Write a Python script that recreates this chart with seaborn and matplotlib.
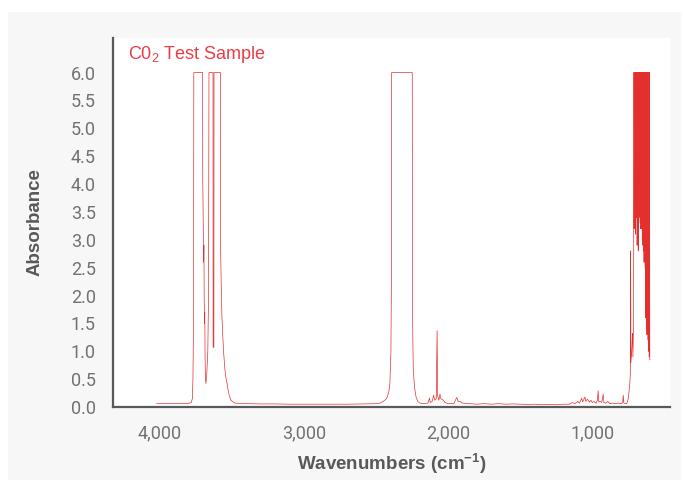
import numpy as np
import pandas as pd
import matplotlib
matplotlib.use("Agg")
import matplotlib.pyplot as plt
import seaborn as sns
from matplotlib.ticker import MultipleLocator, FuncFormatter
from matplotlib.patches import Rectangle

# spectrum, segment by segment (wavenumber, absorbance)
oh_wn = [4020, 3950, 3880, 3800, 3780, 3772, 3768, 3764, 3762, 3701, 3700, 3696,
         3694, 3692, 3690, 3688, 3686, 3684, 3681, 3678, 3672, 3665, 3660, 3657,
         3629, 3628, 3623, 3622, 3578, 3576, 3572, 3567, 3556, 3546, 3538, 3532,
         3524, 3520, 3516, 3504, 3490, 3477]
oh_abs = [0.06, 0.065, 0.06, 0.065, 0.08, 0.15, 0.5, 1.5, 6.0, 6.0, 4.1, 3.0,
          2.6, 2.9, 2.0, 1.5, 1.7, 0.9, 0.5, 0.42, 0.6, 1.0, 2.0, 6.0,
          6.0, 1.07, 1.07, 6.0, 6.0, 2.8, 2.2, 1.6, 1.0, 0.66, 0.5, 0.43,
          0.3, 0.25, 0.2, 0.12, 0.09, 0.07]

base_wn = [3400, 3300, 3200, 3100, 3000, 2900, 2800, 2700, 2600, 2520]
base_abs = [0.06, 0.055, 0.055, 0.05, 0.05, 0.05, 0.05, 0.05, 0.055, 0.06]

co2_wn = [2486, 2472, 2450, 2430, 2421, 2410, 2403, 2396, 2392, 2391, 2248, 2247,
          2244, 2241, 2232, 2222, 2210, 2195, 2170, 2140, 2128, 2124, 2110, 2100,
          2092, 2082, 2076, 2072, 2064, 2056, 2050, 2037, 2020, 2000, 1960, 1940,
          1930, 1918, 1900, 1850]
co2_abs = [0.06, 0.07, 0.1, 0.14, 0.18, 0.28, 0.43, 1.0, 2.5, 6.0, 6.0, 2.1,
           1.2, 0.66, 0.35, 0.18, 0.1, 0.07, 0.06, 0.07, 0.16, 0.08, 0.1, 0.21,
           0.12, 0.15, 1.37, 0.2, 0.12, 0.23, 0.15, 0.13, 0.08, 0.06, 0.06, 0.17,
           0.1, 0.1, 0.07, 0.06]

mid_wn = [1800, 1750, 1700, 1650, 1600, 1550, 1500, 1450, 1400, 1350, 1300, 1250,
          1200, 1160, 1140, 1120, 1100, 1090, 1080, 1074, 1068, 1060, 1051, 1045,
          1035, 1020, 1010, 1000, 990, 975, 965, 960, 955, 945, 935, 925,
          920, 905, 893, 880, 860, 840, 820, 800, 790, 786, 782, 770, 763]
mid_abs = [0.05, 0.06, 0.05, 0.06, 0.05, 0.055, 0.05, 0.045, 0.05, 0.04, 0.045, 0.04,
           0.05, 0.05, 0.08, 0.06, 0.1, 0.07, 0.12, 0.16, 0.09, 0.13, 0.18, 0.1,
           0.14, 0.09, 0.12, 0.08, 0.1, 0.07, 0.12, 0.29, 0.09, 0.1, 0.08, 0.23,
           0.08, 0.07, 0.1, 0.06, 0.07, 0.06, 0.07, 0.06, 0.08, 0.21, 0.07, 0.06, 0.06]

rise_wn = [756, 750, 745, 740, 737, 735, 733, 728, 724, 721, 719, 716, 714]
rise_abs = [0.1, 0.18, 0.3, 0.45, 0.6, 2.8, 0.8, 0.95, 1.2, 1.32, 0.9, 1.3, 2.0]

dense_wn = np.arange(712, 599, -2)
dense_abs = [6.0, 3.2, 6.0, 3.3, 6.0, 3.1, 6.0, 3.6, 6.0, 3.4, 6.0, 2.9,
             6.0, 3.0, 6.0, 2.8, 6.0, 3.3, 6.0, 3.5, 6.0, 3.4, 6.0, 3.2,
             6.0, 3.3, 6.0, 3.2, 6.0, 3.0, 6.0, 2.9, 6.0, 2.8, 6.0, 2.6,
             6.0, 2.6, 6.0, 2.5, 6.0, 1.6, 6.0, 1.4, 6.0, 1.3, 6.0, 1.3,
             6.0, 1.2, 6.0, 1.0, 6.0, 0.9, 6.0, 0.85, 0.85]

y_ticks = [0.0, 0.5, 1.0, 1.5, 2.0, 2.5, 3.0, 3.5, 4.0, 4.5, 5.0, 5.5, 6.0]

wn = np.concatenate([oh_wn, base_wn, co2_wn, mid_wn, rise_wn, dense_wn])
ab = np.concatenate([oh_abs, base_abs, co2_abs, mid_abs, rise_abs, dense_abs])
df = pd.DataFrame({"wn": wn, "abs": ab})

sns.set_style("white")
plt.rcParams["font.family"] = ["Liberation Sans", "DejaVu Sans"]

fig = plt.figure(figsize=(6.83, 4.82), dpi=100, facecolor="white")
fig.patches.append(Rectangle((8 / 683, 2 / 482), 673 / 683, 468 / 482,
                             transform=fig.transFigure, facecolor="#f7f7f7",
                             edgecolor="none", zorder=-10))
ax = fig.add_axes([113 / 683, 75 / 482, 557 / 683, 369 / 482])
ax.set_facecolor("white")

sns.lineplot(data=df, x="wn", y="abs", sort=False, estimator=None,
             color="#e3302f", lw=0.5, ax=ax)

ax.set_xlim(4322, 462)
ax.set_ylim(0, 6.62)

dark = "#58595b"
tick_c = "#707174"
for s in ["top", "right"]:
    ax.spines[s].set_visible(False)
for s in ["left", "bottom"]:
    ax.spines[s].set_color(dark)
    ax.spines[s].set_linewidth(1.6)

ax.xaxis.set_major_locator(MultipleLocator(1000))
ax.xaxis.set_minor_locator(MultipleLocator(200))
ax.set_yticks(y_ticks)
ax.xaxis.set_major_formatter(FuncFormatter(lambda v, p: f"{v:,.0f}"))
ax.yaxis.set_major_formatter(FuncFormatter(lambda v, p: f"{v:.1f}"))

ax.tick_params(axis="x", which="major", direction="out", length=6.5, width=1.6,
               color=dark, pad=6, labelcolor=tick_c, labelsize=13)
ax.tick_params(axis="x", which="minor", direction="out", length=2, width=0.8,
               color="#aaaaaa")
ax.tick_params(axis="y", which="major", direction="out", length=7.5, width=1.6,
               color=dark, pad=5, labelcolor=tick_c, labelsize=13)
for lab in ax.get_xticklabels() + ax.get_yticklabels():
    lab.set_family(["Roboto", "DejaVu Sans"])
    lab.set_fontweight("normal")

ax.set_xlabel(r"Wavenumbers (cm$^{\mathregular{-1}}$)", fontsize=13.5,
              fontweight="bold", color=dark)
ax.set_ylabel("Absorbance", fontsize=13.5, fontweight="bold", color=dark)
ax.xaxis.set_label_coords(0.5, -0.12)
ax.yaxis.set_label_coords(-0.125, 0.5)

ax.text(0.027, 0.943, r"C0$_{\mathregular{2}}$ Test Sample", transform=ax.transAxes,
        fontsize=13, color="#ec3c46", va="baseline", ha="left")

fig.savefig("out.png", dpi=100, facecolor="white")
